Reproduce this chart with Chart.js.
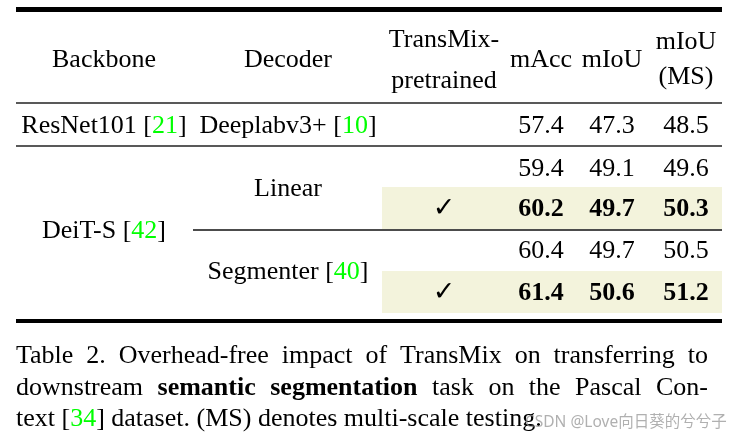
<!DOCTYPE html>
<html>
<head>
<meta charset="utf-8">
<script src="https://cdn.jsdelivr.net/npm/chart.js@4/dist/chart.umd.min.js"></script>
<style>
html, body { margin: 0; padding: 0; background: #fff; }
canvas { display: block; }
</style>
</head>
<body>
<canvas id="table" width="731" height="439"></canvas>
<script>
// table content
const headers = [["Backbone"], ["Decoder"], ["TransMix-", "pretrained"], ["mAcc"], ["mIoU"], ["mIoU", "(MS)"]];
const backbones = ["ResNet101", "DeiT-S"];
const backboneCites = ["21", "42"];
const decoders = ["Deeplabv3+", "Linear", "Segmenter"];
const decoderCites = ["10", "", "40"];
const rowBackbone = [0, 1, 1, 1, 1];
const rowDecoder = [0, 1, 1, 2, 2];
const pretrained = [false, false, true, false, true];
const mAcc = [57.4, 59.4, 60.2, 60.4, 61.4];
const mIoU = [47.3, 49.1, 49.7, 49.7, 50.6];
const mIoUMS = [48.5, 49.6, 50.3, 50.5, 51.2];
// ^ toggles bold, {..} is a green citation
const captionLines = [
    "Table 2. Overhead-free impact of TransMix on transferring to",
    "downstream ^semantic segmentation^ task on the Pascal Con-",
    "text [{34}] dataset. (MS) denotes multi-scale testing.",
];
const watermark = "CSDN @Love向日葵的兮兮子";

// layout, in scale units (= canvas pixels)
const colX = [104, 288, 444, 541, 612, 686];
const rowBase = [133, 176, 216, 258, 300];
const left = 16, right = 722;
const serif = "'Liberation Serif', 'Times New Roman', serif";
const green = "#00ff00";
const size = 26;

let fontOf = (bold, s)=>`${bold?"bold ":""}${s||size}px ${serif}`;

let drawRuns = (ctx, runs, x, y, align)=>{
    let w = runs.reduce((acc, r)=>{ ctx.font = fontOf(r.b); return acc + ctx.measureText(r.t).width; }, 0);
    let cx = align==="center" ? x - w/2 : (align==="right" ? x - w : x);
    runs.forEach((r)=>{
        ctx.font = fontOf(r.b);
        ctx.fillStyle = r.c || "#000";
        ctx.fillText(r.t, cx, y);
        cx += ctx.measureText(r.t).width;
    });
    return w;
};

let cited = (name, cite)=>cite ? [{t: name + " ["}, {t: cite, c: green}, {t: "]"}] : [{t: name}];

let parseWords = (line, state)=>line.split(" ").map((word)=>{
    let runs = [], cur = "", green_ = false;
    let push = ()=>{ if(cur) runs.push({t: cur, b: state.bold, c: green_ ? green : null}); cur = ""; };
    for(const ch of word){
        if(ch==="^"){ push(); state.bold = !state.bold; }
        else if(ch==="{"){ push(); green_ = true; }
        else if(ch==="}"){ push(); green_ = false; }
        else cur += ch;
    }
    push();
    return runs;
});

const tablePlugin = {
    id: "tablePlugin",
    afterDraw: (chart)=>{
        let ctx = chart.ctx;
        let X = (v)=>chart.scales.x.getPixelForValue(v);
        let Y = (v)=>chart.scales.y.getPixelForValue(v);
        ctx.save();
        ctx.textBaseline = "alphabetic";

        // highlighted rows
        ctx.fillStyle = "#f3f3dc";
        pretrained.forEach((p, i)=>{
            if(!p) return;
            ctx.fillRect(X(382), Y(rowBase[i] - 29), X(right) - X(382), Y(rowBase[i] + 13) - Y(rowBase[i] - 29));
        });

        // rules
        let rule = (x0, x1, y, w, color)=>{
            ctx.beginPath();
            ctx.strokeStyle = color;
            ctx.lineWidth = w;
            ctx.moveTo(X(x0), Y(y));
            ctx.lineTo(X(x1), Y(y));
            ctx.stroke();
        };
        rule(left, right, 9.5, 4.8, "#000");
        rule(left, right, 103, 1.3, "#222");
        rule(left, right, 146, 1.3, "#222");
        rule(193, right, 230, 1.3, "#111");
        rule(left, right, 321, 4.2, "#000");

        // header
        headers.forEach((lines, i)=>{
            let bases = lines.length===1 ? [67] : (i===2 ? [47, 88] : [49, 84]);
            lines.forEach((t, k)=>drawRuns(ctx, [{t}], X(colX[i]), Y(bases[k]), "center"));
        });

        // spanning backbone / decoder cells
        let spanBase = (rows, idx)=>{
            let sel = rowBase.filter((_, r)=>rows[r]===idx);
            return sel.reduce((a, b)=>a + b, 0) / sel.length;
        };
        backbones.forEach((b, i)=>drawRuns(ctx, cited(b, backboneCites[i]), X(colX[0]), Y(spanBase(rowBackbone, i)), "center"));
        decoders.forEach((d, i)=>drawRuns(ctx, cited(d, decoderCites[i]), X(colX[1]), Y(spanBase(rowDecoder, i)), "center"));

        // values
        [mAcc, mIoU, mIoUMS].forEach((series, s)=>{
            series.forEach((v, r)=>drawRuns(ctx, [{t: v.toFixed(1), b: pretrained[r]}], X(colX[3 + s]), Y(rowBase[r]), "center"));
        });
        ctx.font = "27px 'DejaVu Sans'";
        ctx.fillStyle = "#000";
        ctx.textAlign = "center";
        pretrained.forEach((p, r)=>{ if(p) ctx.fillText("✓", X(colX[2]), Y(rowBase[r])); });
        ctx.textAlign = "left";

        // caption
        let state = {bold: false};
        let capBase = [363, 395, 426];
        captionLines.forEach((line, li)=>{
            let words = parseWords(line, state);
            let widths = words.map((runs)=>runs.reduce((acc, r)=>{ ctx.font = fontOf(r.b); return acc + ctx.measureText(r.t).width; }, 0));
            let total = widths.reduce((a, b)=>a + b, 0);
            ctx.font = fontOf(false);
            let justify = li < captionLines.length - 1;
            let gap = justify ? (708 - left - total) / (words.length - 1) : ctx.measureText(" ").width;
            let x = left;
            words.forEach((runs, k)=>{
                drawRuns(ctx, runs, X(x), Y(capBase[li]), "left");
                x += widths[k] + gap;
            });
        });

        // watermark
        ctx.font = "15.5px 'Noto Sans', 'Noto Sans CJK SC', sans-serif";
        ctx.fillStyle = "rgba(150,150,150,0.75)";
        ctx.fillText(watermark, X(525), Y(427));
        ctx.restore();
    }
};

new Chart(document.getElementById("table"), {
    type: "scatter",
    data: {datasets: [{data: []}]},
    options: {
        responsive: false,
        animation: false,
        events: [],
        layout: {padding: 0},
        plugins: {legend: {display: false}, tooltip: {enabled: false}},
        scales: {
            x: {type: "linear", min: 0, max: 731, display: false},
            y: {type: "linear", min: 0, max: 439, reverse: true, display: false},
        },
    },
    plugins: [tablePlugin],
});
</script>
</body>
</html>
